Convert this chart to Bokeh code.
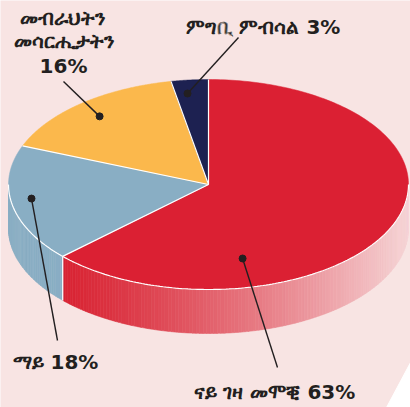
import numpy as np
from bokeh.plotting import figure
from bokeh.models import Range1d
from bokeh.core.properties import value
from bokeh.embed import file_html
from bokeh.resources import INLINE

# ---- data ----
categories = ["ናይ ገዛ መሞቒ", "ማይ", "መብራህትን መሳርሒታትን", "ምግቢ ምብሳል"]
shares = [63, 18, 16, 3]
top_colors = ["#db2033", "#89aec4", "#fbb84c", "#1d2151"]
side_colors = ["#db2033", "#89aec4", "#fbb84c", "#1d2151"]

# ---- layout ----
W, H = 410, 407
cx, cy, rx, ry, depth = 208, 184, 200, 105, 44
BG = "#f8e4e3"
TXT = "#231f20"

p = figure(width=W, height=H, output_backend="svg", toolbar_location=None,
           x_range=Range1d(0, W), y_range=Range1d(H, 0),
           min_border=0, min_border_left=0, min_border_right=0,
           min_border_top=0, min_border_bottom=0)
p.axis.visible = False
p.grid.visible = False
p.outline_line_color = None
p.background_fill_color = BG
p.border_fill_color = BG

# white corner
p.patch([W, W, 386], [362, H, H], fill_color="white", line_color="white")

def ex(a):
    return cx + rx * np.cos(np.radians(a))

def ey(a, off=0.0):
    return cy - ry * np.sin(np.radians(a)) + off

# slice angles (start at 12 o'clock, clockwise)
starts, ends = [], []
a = 90.0
for s in shares:
    starts.append(a)
    a = a - s * 3.6
    ends.append(a)

def lerp_col(t):
    t = min(max(t, 0), 1) ** 1.25
    c0 = np.array([217, 34, 50])
    c1 = np.array([246, 212, 214])
    c = (c0 + (c1 - c0) * t).astype(int)
    return "#%02x%02x%02x" % tuple(c)

# ---- sides (front half only: angles -180..0) ----
xs_s, ys_s, cols_s = [], [], []
for i, (s0, s1) in enumerate(zip(starts, ends)):
    hi, lo = s0, s1
    for shift in (0, 360, -360):
        h, l = hi + shift, lo + shift
        vh, vl = min(h, 0), max(l, -180)
        if vh > vl:
            n = max(2, int((vh - vl) / 1.0))
            angs = np.linspace(vl, vh, n + 1)
            for k in range(n):
                a0, a1 = angs[k], angs[k + 1]
                seg = np.linspace(a0, a1, 4)
                xx = list(ex(seg)) + list(ex(seg[::-1]))
                yy = list(ey(seg)) + list(ey(seg[::-1], depth))
                xs_s.append(xx)
                ys_s.append(yy)
                if i == 0:
                    xm = ex((a0 + a1) / 2)
                    cols_s.append(lerp_col((xm - 54) / (407 - 54)))
                else:
                    cols_s.append(side_colors[i])
p.patches(xs_s, ys_s, fill_color=cols_s, line_color=cols_s, line_width=0.6)

# vertical white edge between blue and red side
b = ends[0]
p.line([ex(b), ex(b)], [ey(b), ey(b, depth)], line_color="white", line_width=1.2)

# ---- top face ----
xs_t, ys_t = [], []
for s0, s1 in zip(starts, ends):
    angs = np.linspace(s0, s1, 200)
    xs_t.append([cx] + list(ex(angs)))
    ys_t.append([cy] + list(ey(angs)))
p.patches(xs_t, ys_t, fill_color=top_colors, line_color=top_colors, line_width=0.5)

# white edges on top
fr = np.linspace(-180, 0, 200)
p.line(ex(fr), ey(fr), line_color="white", line_width=1.2)
for s0 in starts:
    p.line([cx, ex(s0)], [cy, ey(s0)], line_color="white", line_width=1.2)

# ---- leaders and labels ----
dot_pos = [(0.725, -76.4), (0.895, 188.6), (0.847, 130.0), (0.873, 96.9)]
leader_end = [(277, 367), (57, 340), (63, 81), (238, 37)]
dx = [cx + r * rx * np.cos(np.radians(t)) for r, t in dot_pos]
dy = [cy - r * ry * np.sin(np.radians(t)) for r, t in dot_pos]
for i in range(4):
    p.line([dx[i], leader_end[i][0]], [dy[i], leader_end[i][1]],
           line_color=TXT, line_width=1.4)
p.scatter(dx, dy, size=7, fill_color=TXT, line_color=TXT)

FONT = value("DejaVu Sans")
FS = "20px"

def txt(t, x, y, al):
    p.text([x], [y], text=[t], text_font=FONT, text_font_size=FS,
           text_font_style="bold", text_color=TXT, text_align=al,
           text_baseline="middle")

l2 = categories[2].split(" ")
txt(f"{categories[0]} {shares[0]}%", 193, 391, "left")
txt(f"{categories[1]} {shares[1]}%", 12, 361, "left")
txt(l2[0], 62, 17, "center")
txt(l2[1], 63, 40, "center")
txt(f"{shares[2]}%", 63, 65, "center")
txt(f"{categories[3]} {shares[3]}%", 185, 26, "left")

open("out.html", "w").write(file_html(p, INLINE))
